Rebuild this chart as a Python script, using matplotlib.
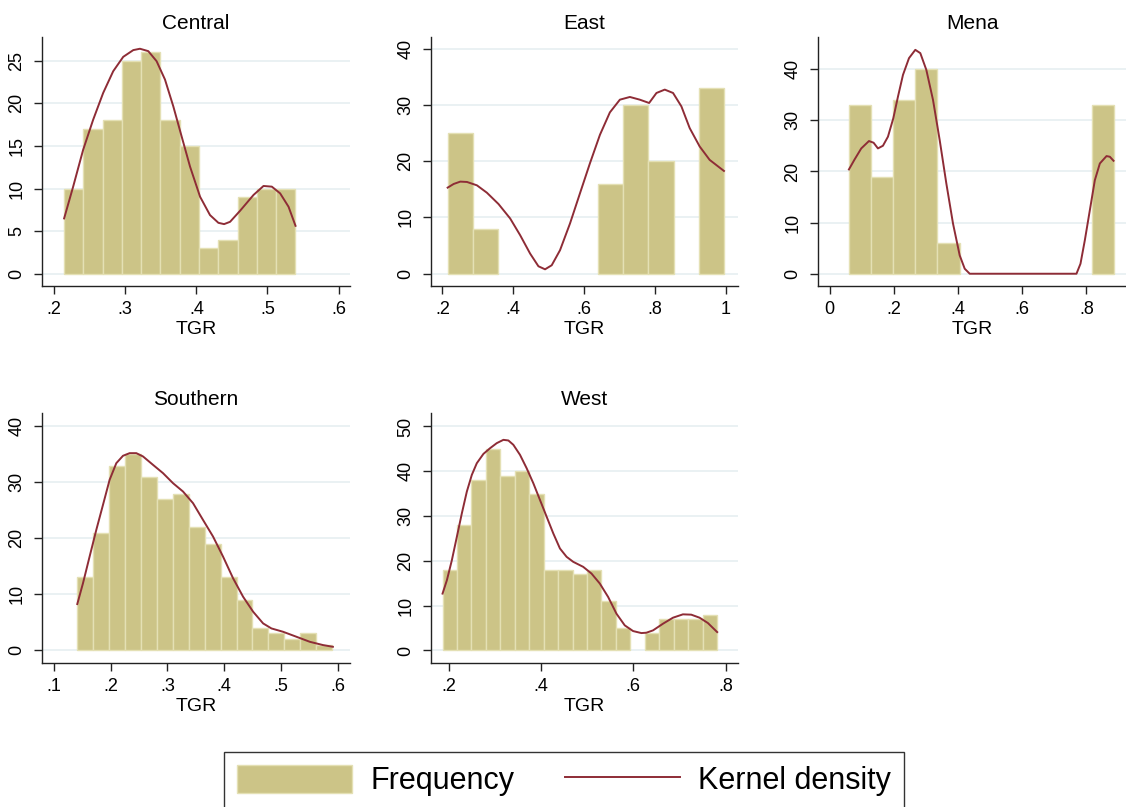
import numpy as np
import matplotlib
matplotlib.use('Agg')
import matplotlib.pyplot as plt
from matplotlib.patches import Patch
from matplotlib.lines import Line2D

plt.rcParams['font.family'] = ['Liberation Sans', 'DejaVu Sans']

W, H = 1126, 807
bar_col = '#ccc487'
bar_edge = '#e4e0b4'
kde_col = '#8e2c36'
grid_col = '#e8f0f2'

# ---- data ----
regions = ['Central', 'East', 'Mena', 'Southern', 'West']

central_start, central_width = 0.214, 0.0271
central_freq = [10, 17, 18, 25, 26, 18, 15, 3, 4, 9, 10, 10]
central_kx = [0.2141, 0.2268, 0.2408, 0.2549, 0.269, 0.2831, 0.2972, 0.3113, 0.3207,
              0.3324, 0.3441, 0.3559, 0.3676, 0.3793, 0.3911, 0.4052, 0.4192, 0.431,
              0.439, 0.4474, 0.4615, 0.4803, 0.4944, 0.5061, 0.5178, 0.5296, 0.5394]
central_ky = [6.49, 10.22, 14.54, 18.08, 21.23, 23.78, 25.47, 26.26, 26.42,
              26.14, 24.96, 22.8, 19.65, 16.12, 12.58, 9.04, 6.88, 5.97,
              5.82, 6.09, 7.39, 9.24, 10.3, 10.22, 9.43, 7.86, 5.62]

east_start, east_width = 0.215, 0.0709
east_freq = [25, 8, 0, 0, 0, 0, 16, 30, 20, 0, 33]
east_kx = [0.215, 0.2319, 0.2507, 0.2695, 0.2977, 0.3258, 0.3587, 0.3915, 0.4197,
           0.4479, 0.4714, 0.4901, 0.5089, 0.5324, 0.5606, 0.5887, 0.6169, 0.6451,
           0.6732, 0.7014, 0.7296, 0.7577, 0.784, 0.8047, 0.8282, 0.8516, 0.8751,
           0.8986, 0.9268, 0.9549, 0.9953]
east_ky = [15.3, 15.95, 16.37, 16.31, 15.71, 14.4, 12.38, 9.82, 6.85,
           3.57, 1.31, 0.77, 1.49, 4.17, 8.93, 14.29, 19.64, 24.7,
           28.69, 30.95, 31.43, 30.95, 30.36, 32.14, 32.74, 32.14, 29.76,
           25.89, 22.62, 20.24, 18.27]

mena_start, mena_width = 0.0603, 0.0689
mena_freq = [33, 19, 34, 40, 6, 0, 0, 0, 0, 0, 0, 33]
mena_kx = [0.0603, 0.0779, 0.0987, 0.1226, 0.1371, 0.1506, 0.1662, 0.1818, 0.1984,
           0.213, 0.2286, 0.2473, 0.267, 0.2826, 0.3013, 0.3221, 0.3429, 0.3636,
           0.3844, 0.4052, 0.4208, 0.4364, 0.7688, 0.7813, 0.7948, 0.8104, 0.826,
           0.8416, 0.8623, 0.8727, 0.8842]
mena_ky = [20.4, 22.35, 24.51, 25.95, 25.62, 24.51, 25.03, 26.8, 30.39,
           34.64, 38.89, 42.16, 43.79, 43.14, 39.87, 33.99, 26.14, 17.65,
           9.8, 3.59, 0.98, 0.0, 0.0, 1.96, 6.54, 12.42, 18.3,
           21.57, 23.01, 22.88, 22.09]

southern_start, southern_width = 0.141, 0.0281
southern_freq = [13, 21, 33, 35, 31, 27, 28, 22, 19, 13, 9, 4, 3, 2, 3, 1]
southern_kx = [0.1412, 0.1512, 0.1629, 0.1747, 0.1865, 0.1982, 0.21, 0.2218, 0.2335,
               0.2453, 0.2571, 0.2747, 0.2924, 0.31, 0.3276, 0.3453, 0.3629, 0.3806,
               0.3982, 0.4159, 0.4335, 0.4512, 0.4688, 0.4835, 0.5041, 0.5276, 0.5512,
               0.5747, 0.5918]
southern_ky = [8.24, 11.94, 16.72, 21.49, 25.97, 30.45, 33.43, 34.75, 35.22,
               35.22, 34.63, 33.13, 31.64, 29.85, 28.36, 26.27, 23.28, 20.3,
               16.72, 12.84, 9.55, 6.87, 4.78, 3.88, 3.28, 2.39, 1.49,
               0.9, 0.6]

west_start, west_width = 0.187, 0.0313
west_freq = [18, 28, 38, 45, 39, 40, 35, 18, 18, 17, 18, 11, 5, 0, 4, 7, 7, 7, 8]
west_kx = [0.187, 0.1964, 0.2072, 0.218, 0.2288, 0.2396, 0.2504, 0.2612, 0.2756,
           0.29, 0.3044, 0.3188, 0.3296, 0.3404, 0.3548, 0.3692, 0.3837, 0.3981,
           0.4125, 0.4269, 0.4413, 0.4557, 0.4701, 0.4917, 0.5097, 0.5277, 0.5457,
           0.5637, 0.5817, 0.5997, 0.6177, 0.6285, 0.6429, 0.6645, 0.6861, 0.7077,
           0.7257, 0.7438, 0.7618, 0.7819]
west_ky = [12.69, 15.67, 20.15, 25.37, 30.6, 35.45, 39.18, 41.79, 43.88,
           45.15, 46.27, 47.01, 46.87, 45.9, 43.66, 40.67, 37.31, 33.58,
           29.85, 26.12, 22.76, 20.9, 19.78, 18.66, 17.16, 14.93, 11.94,
           8.21, 5.6, 4.33, 3.88, 3.96, 4.48, 5.97, 7.31, 8.06,
           7.99, 7.31, 6.12, 4.1]

central_xt = [0.2, 0.3, 0.4, 0.5, 0.6]
central_xl = ['.2', '.3', '.4', '.5', '.6']
east_xt = [0.2, 0.4, 0.6, 0.8, 1.0]
east_xl = ['.2', '.4', '.6', '.8', '1']
mena_xt = [0, 0.2, 0.4, 0.6, 0.8]
mena_xl = ['0', '.2', '.4', '.6', '.8']
southern_xt = [0.1, 0.2, 0.3, 0.4, 0.5, 0.6]
southern_xl = ['.1', '.2', '.3', '.4', '.5', '.6']
west_xt = [0.2, 0.4, 0.6, 0.8]
west_xl = ['.2', '.4', '.6', '.8']

central_yt = [0, 5, 10, 15, 20, 25]
east_yt = [0, 10, 20, 30, 40]
mena_yt = [0, 10, 20, 30, 40]
southern_yt = [0, 10, 20, 30, 40]
west_yt = [0, 10, 20, 30, 40, 50]

panels = {
    'Central': (central_start, central_width, central_freq, central_kx, central_ky,
                central_xt, central_xl, central_yt),
    'East': (east_start, east_width, east_freq, east_kx, east_ky,
             east_xt, east_xl, east_yt),
    'Mena': (mena_start, mena_width, mena_freq, mena_kx, mena_ky,
             mena_xt, mena_xl, mena_yt),
    'Southern': (southern_start, southern_width, southern_freq, southern_kx, southern_ky,
                 southern_xt, southern_xl, southern_yt),
    'West': (west_start, west_width, west_freq, west_kx, west_ky,
             west_xt, west_xl, west_yt),
}

# layout in pixels: left, right, top, bottom ; axis limits
boxes = {
    'Central': ((42, 350, 37, 286), (0.183, 0.616), (-1.45, 27.8)),
    'East': ((431, 738, 37, 286), (0.168, 1.035), (-2.2, 42.1)),
    'Mena': ((818, 1126, 37, 286), (-0.036, 0.923), (-2.4, 46.3)),
    'Southern': ((42, 350, 413, 663), (0.079, 0.622), (-2.3, 42.4)),
    'West': ((431, 738, 413, 663), (0.162, 0.827), (-2.8, 53.0)),
}

fig = plt.figure(figsize=(W / 100, H / 100), dpi=100)

for name in regions:
    start, width, freq, kx, ky, xt, xl, yt = panels[name]
    (l, r, t, b), xlim, ylim = boxes[name]
    ax = fig.add_axes([l / W, 1 - b / H, (r - l) / W, (b - t) / H])
    freq = np.array(freq)
    edges = start + width * np.arange(len(freq))
    keep = freq > 0  # empty bins are not drawn
    ax.bar(edges[keep], freq[keep], width=width, align='edge', color=bar_col,
           edgecolor=bar_edge, linewidth=1.0, zorder=2)
    ax.plot(kx, ky, color=kde_col, lw=1.4, zorder=3)
    for y in yt:
        ax.axhline(y, color=grid_col, lw=1.3, zorder=1)
    ax.set_xlim(*xlim)
    ax.set_ylim(*ylim)
    ax.set_xticks(xt)
    ax.set_xticklabels(xl)
    ax.set_yticks(yt)
    ax.set_yticklabels([str(v) for v in yt], rotation=90, va='center')
    ax.tick_params(axis='both', labelsize=13, length=6, width=1, color='#222222')
    ax.tick_params(axis='x', pad=5)
    ax.tick_params(axis='y', pad=6)
    for s in ['top', 'right']:
        ax.spines[s].set_visible(False)
    for s in ['left', 'bottom']:
        ax.spines[s].set_color('#222222')
        ax.spines[s].set_linewidth(1)
    ax.set_title(name, fontsize=15, pad=6)
    ax.set_xlabel('TGR', fontsize=14, labelpad=2)

handles = [Patch(facecolor=bar_col, edgecolor=bar_edge, linewidth=1),
           Line2D([0], [0], color=kde_col, lw=1.4)]
fig.legend(handles, ['Frequency', 'Kernel density'], ncol=2,
           loc='upper center', bbox_to_anchor=(564 / W, 1 - 752 / H),
           fontsize=22, frameon=True, fancybox=False, edgecolor='black',
           handlelength=3.76, handleheight=1.05, handletextpad=0.59,
           columnspacing=1.67, borderpad=0.42, borderaxespad=0)
fig.legends[0].get_frame().set_linewidth(1)

fig.savefig('out.png', dpi=100)
